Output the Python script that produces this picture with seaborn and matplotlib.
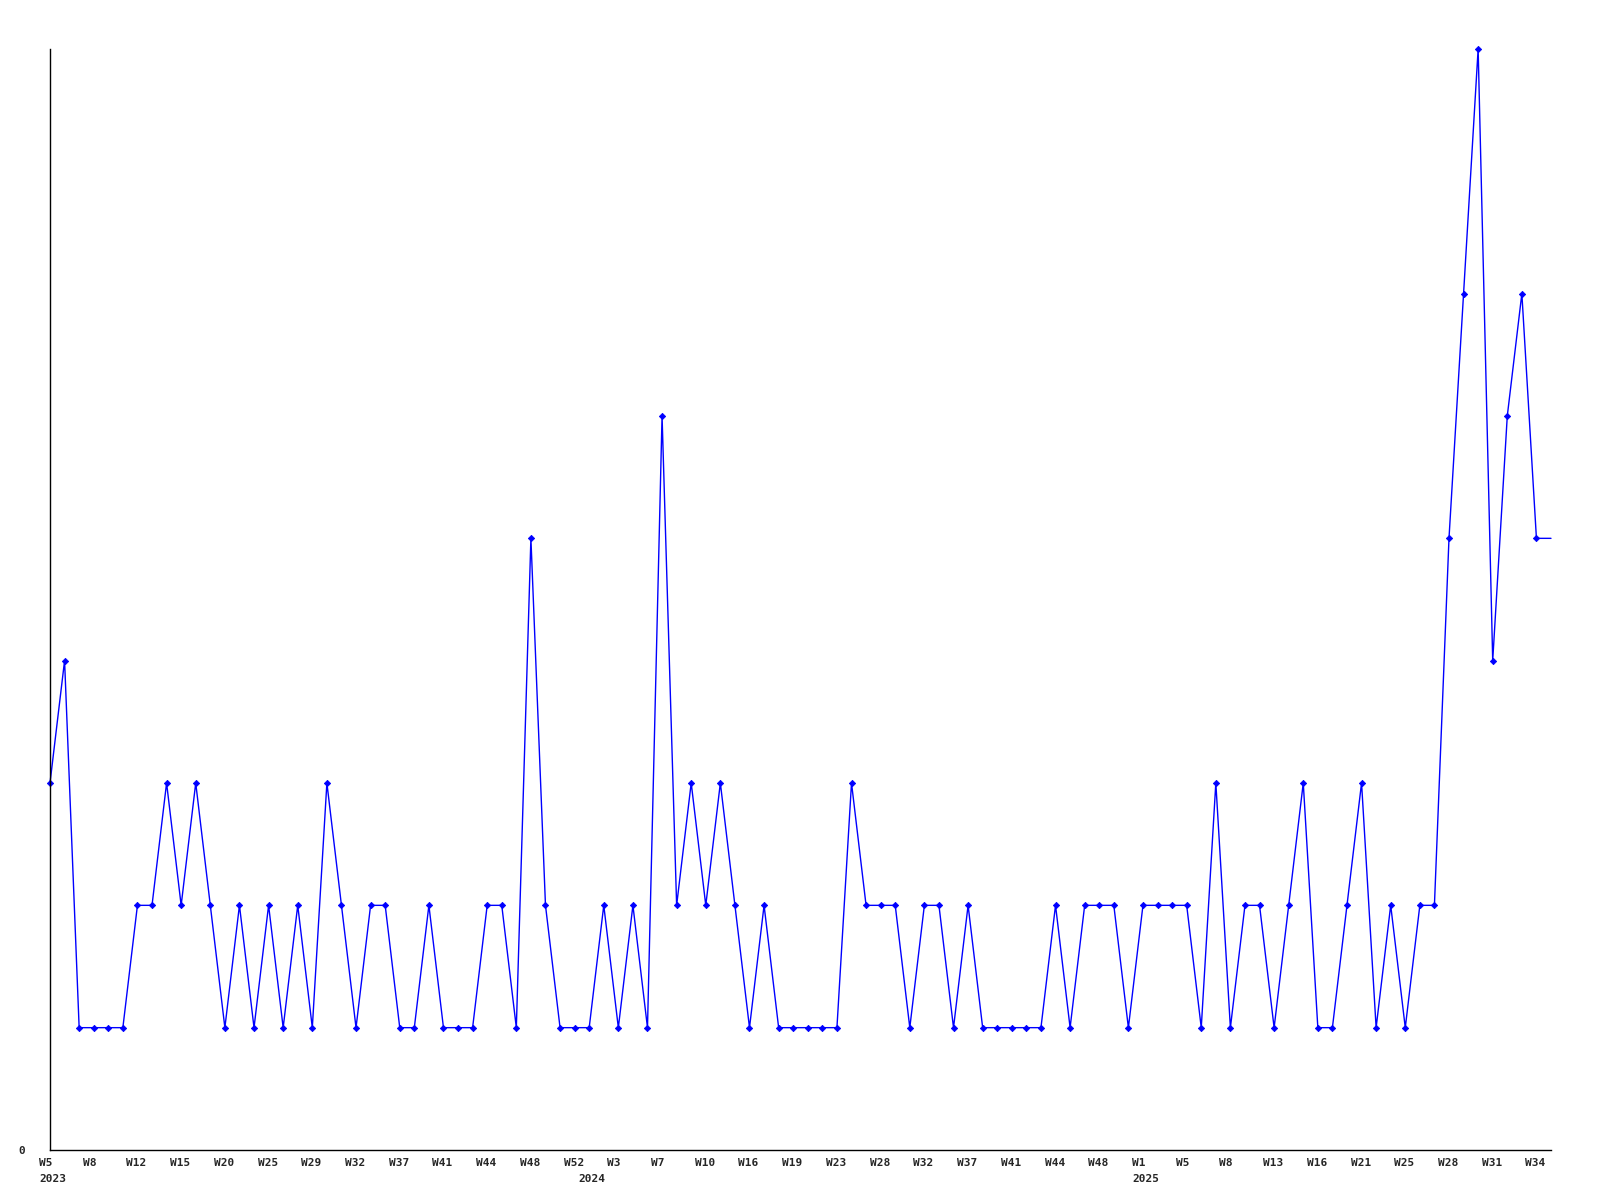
import numpy as np
import pandas as pd
import seaborn as sns
import matplotlib
matplotlib.use('Agg')
import matplotlib.pyplot as plt
from matplotlib.transforms import ScaledTranslation

# weekly counts, one per point (last point is the running week)
counts = [3, 4, 1, 1, 1, 1, 2, 2, 3, 2,
          3, 2, 1, 2, 1, 2, 1, 2, 1, 3,
          2, 1, 2, 2, 1, 1, 2, 1, 1, 1,
          2, 2, 1, 5, 2, 1, 1, 1, 2, 1,
          2, 1, 6, 2, 3, 2, 3, 2, 1, 2,
          1, 1, 1, 1, 1, 3, 2, 2, 2, 1,
          2, 2, 1, 2, 1, 1, 1, 1, 1, 2,
          1, 2, 2, 2, 1, 2, 2, 2, 2, 1,
          3, 1, 2, 2, 1, 2, 3, 1, 1, 2,
          3, 1, 2, 1, 2, 2, 5, 7, 9, 4,
          6, 7, 5, 5]

# labels shown on every third point
week_labels = ['W5', 'W8', 'W12', 'W15', 'W20', 'W25', 'W29', 'W32', 'W37',
               'W41', 'W44', 'W48', 'W52',
               'W3', 'W7', 'W10', 'W16', 'W19', 'W23', 'W28', 'W32', 'W37',
               'W41', 'W44', 'W48',
               'W1', 'W5', 'W8', 'W13', 'W16', 'W21', 'W25', 'W28', 'W31', 'W34']
label_step = 3

# year markers and the point index where each year starts
years = ['2023', '2024', '2025']
year_start = [0, 37, 75]

df = pd.DataFrame({'idx': np.arange(len(counts)), 'count': counts})

sns.set_style('white')
plt.rcParams['font.family'] = ['DejaVu Sans Mono']

fig = plt.figure(figsize=(16, 12), dpi=100)
ax = fig.add_axes([50 / 1600, 1 - 1150 / 1200, 1501 / 1600, 1101 / 1200])

sns.lineplot(x='idx', y='count', data=df, color='blue', linewidth=1,
             marker='D', markersize=3.2, markeredgewidth=0.6, markeredgecolor='blue',
             markevery=list(range(len(counts) - 1)), clip_on=False, ax=ax)

ax.set_xlim(0, len(counts) - 1)
ax.set_ylim(0, max(counts))
ax.set_xlabel('')
ax.set_ylabel('')

tick_pos = np.arange(len(week_labels)) * label_step
ax.set_xticks(tick_pos, week_labels)
ax.set_yticks([0], ['0'])
ax.tick_params(axis='x', length=0, pad=5.5, labelsize=8)
ax.tick_params(axis='y', length=0, pad=18, labelsize=8)

shift = ScaledTranslation(-11 / 100, 0, fig.dpi_scale_trans)
for lab in ax.get_xticklabels():
    lab.set_horizontalalignment('left')
    lab.set_fontweight('bold')
    lab.set_transform(lab.get_transform() + shift)
for lab in ax.get_yticklabels():
    lab.set_fontweight('bold')

for yr, pos in zip(years, year_start):
    ax.annotate(yr, xy=(pos, 0), xycoords=('data', 'axes fraction'),
                xytext=(-11 * 0.72, -23.5 * 0.72), textcoords='offset points',
                ha='left', va='top', fontsize=8, fontweight='bold')

sns.despine(ax=ax)
for side in ['left', 'bottom']:
    ax.spines[side].set_color('black')
    ax.spines[side].set_linewidth(1)
ax.grid(False)

fig.savefig('out.png', dpi=100, facecolor='white')
